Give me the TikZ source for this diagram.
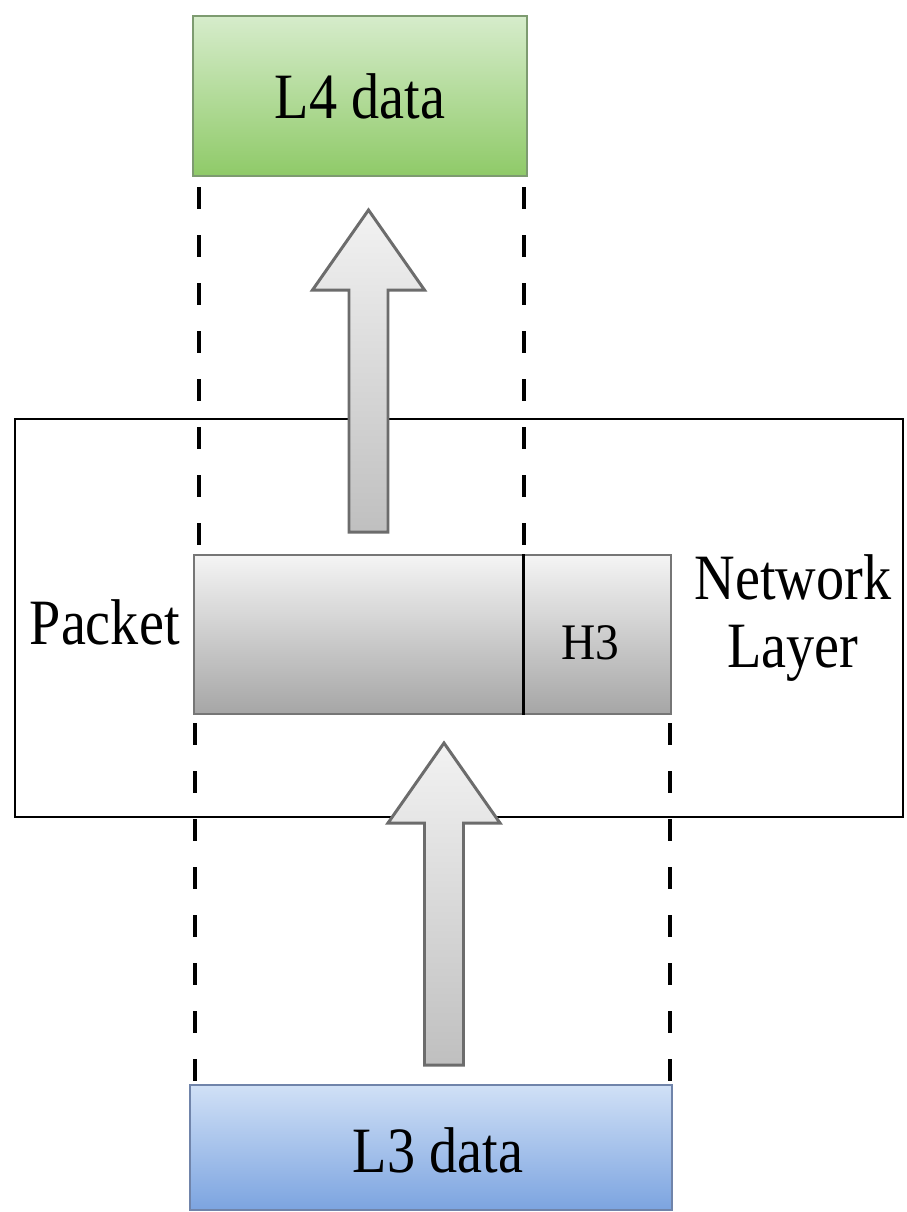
\documentclass[tikz,border=0pt]{standalone}
\usepackage{xcolor}
\usepackage{fontspec}
\usepackage{tikz}
\setmainfont{Liberation Serif}

\definecolor{greentop}{RGB}{214,236,203}
\definecolor{greenbot}{RGB}{143,202,104}
\definecolor{greenline}{RGB}{125,155,112}
\definecolor{bluetop}{RGB}{208,224,246}
\definecolor{bluebot}{RGB}{124,164,224}
\definecolor{blueline}{RGB}{112,132,170}
\definecolor{graytop}{RGB}{244,244,244}
\definecolor{graybot}{RGB}{166,166,166}
\definecolor{grayline}{RGB}{118,118,118}
\definecolor{arrowline}{RGB}{108,108,108}

% text a bit taller than wide, as in the picture
\newcommand{\tallstr}[1]{\scalebox{1}[1.15]{#1}}

\tikzset{
  bigtxt/.style={font=\fontsize{32}{39}\selectfont, inner sep=0pt},
  databox/.style={draw, line width=0.8pt, inner sep=0pt, minimum height=3.2cm, bigtxt},
  pktbox/.style={draw=grayline, line width=0.8pt, inner sep=0pt, minimum height=3.18cm,
    top color=graytop, bottom color=graybot},
  blockarrow/.style={draw=arrowline, line width=1.7pt, line join=miter,
    top color=gray!10, bottom color=gray!50},
  guide/.style={line width=2.2pt, dash pattern=on 0.44cm off 0.52cm}
}

\begin{document}
\begin{tikzpicture}
\useasboundingbox (0,0) rectangle (18.14,-24.24);

  % network layer frame
  \node[draw=black, line width=1.1pt, inner sep=0pt, minimum width=17.76cm,
    minimum height=7.96cm] (netlayer) at (9.18,-12.36) {};

  % upward block arrows
  \coordinate (uparrow) at (7.37,-10.64);
  \draw[blockarrow] (uparrow) ++(-0.39,0) -- ++(0,4.84) -- ++(-0.73,0) -- ++(1.12,1.6)
    -- ++(1.12,-1.6) -- ++(-0.73,0) -- ++(0,-4.84) -- cycle;
  \coordinate (inarrow) at (8.88,-21.30);
  \draw[blockarrow] (inarrow) ++(-0.39,0) -- ++(0,4.84) -- ++(-0.73,0) -- ++(1.12,1.6)
    -- ++(1.12,-1.6) -- ++(-0.73,0) -- ++(0,-4.84) -- cycle;

  % data units
  \node[databox, draw=greenline, top color=greentop, bottom color=greenbot,
    minimum width=6.68cm] (l4) at (7.20,-1.92) {\tallstr{L4 data}};
  \node[databox, draw=blueline, top color=bluetop, bottom color=bluebot,
    minimum width=9.64cm, minimum height=2.5cm] (l3) at (8.62,-22.95) {};
  \node[bigtxt] (l3text) at (8.76,-23.00) {\tallstr{L3 data}};

  % packet = payload + header
  \node[pktbox, minimum width=6.58cm] (pkt) at (7.17,-12.69) {};
  \node[pktbox, minimum width=2.96cm] (hdr) at (11.94,-12.69) {};
  \draw[line width=1.6pt] (pkt.north east) -- (pkt.south east);
  \node[font=\fontsize{27}{32}\selectfont, inner sep=0pt] (h3) at (11.80,-12.85)
    {\scalebox{1}[1.08]{H3}};

  \node[bigtxt, anchor=east] (pktlabel) at (3.60,-12.44) {\tallstr{Packet}};
  \node[bigtxt, align=center] (layername) at (15.86,-12.36)
    {\tallstr{Network}\\\tallstr{Layer}};

  % guide lines
  \coordinate (g1) at (3.98,-3.74);
  \coordinate (g2) at (3.98,-11.10);
  \coordinate (g3) at (10.48,-3.74);
  \coordinate (g4) at (10.48,-11.10);
  \coordinate (g5) at (3.90,-14.46);
  \coordinate (g6) at (3.90,-21.70);
  \coordinate (g7) at (13.40,-14.46);
  \coordinate (g8) at (13.40,-21.70);
  \draw[guide] (g1) -- (g2);
  \draw[guide] (g3) -- (g4);
  \draw[guide] (g5) -- (g6);
  \draw[guide] (g7) -- (g8);
\end{tikzpicture}
\end{document}
